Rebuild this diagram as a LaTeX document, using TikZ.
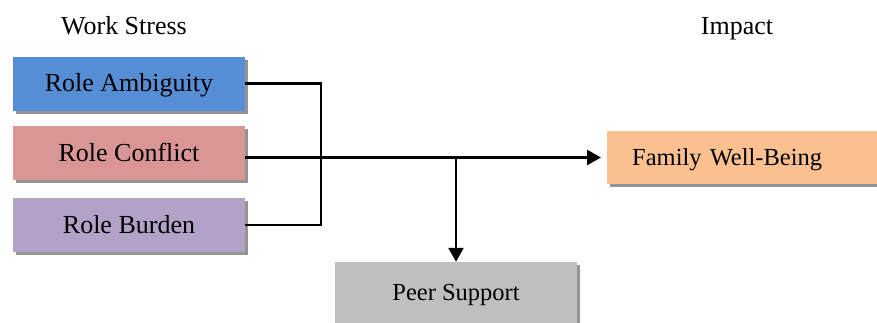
\documentclass[tikz,border=0pt]{standalone}
\usepackage{fontspec}
\setmainfont{Liberation Serif}
\usetikzlibrary{arrows.meta,shadows}
\definecolor{ambblue}{RGB}{85,142,213}
\definecolor{conpink}{RGB}{217,150,148}
\definecolor{burpurple}{RGB}{179,162,199}
\definecolor{famorange}{RGB}{250,192,144}
\definecolor{peergray}{RGB}{191,191,191}
\tikzstyle{rolebox}=[draw=none, minimum width=232pt, minimum height=54pt, inner sep=0pt,
    text height=20pt, text depth=4pt,
    drop shadow={shadow xshift=2.5pt, shadow yshift=-3pt, opacity=0.6, fill=black!70}]
\tikzstyle{heading}=[anchor=base]
\tikzstyle{link}=[line width=2.4pt]
\tikzstyle{arr}=[link, -{Triangle[length=14pt, width=15pt]}]

\begin{document}
\begin{tikzpicture}[x=1pt, y=-1pt, font=\fontsize{26}{31}\selectfont]
    \useasboundingbox (0,0) rectangle (877,322);
    % headings
    \node[heading] (stress) at (124,34) {Work Stress};
    \node[heading] (impact) at (737,34) {Impact};
    % work stress boxes
    \node[rolebox, fill=ambblue] (amb) at (129,83.5) {Role Ambiguity};
    \node[rolebox, fill=conpink] (conflict) at (129,153) {Role Conflict};
    \node[rolebox, fill=burpurple] (burden) at (129,225) {Role Burden};
    % impact boxes
    \node[rolebox, fill=famorange, anchor=west, minimum width=272pt, minimum height=53pt,
      font=\fontsize{24.5}{29}\selectfont, text width=222pt, align=left, inner xsep=25pt]
      (family) at (607,157.5) {Family Well-Being};
    \node[rolebox, fill=peergray, minimum width=242pt, minimum height=61pt,
      font=\fontsize{24.5}{29}\selectfont] (peer) at (456,292.5) {Peer Support};
    % connectors
    \coordinate (join) at (321,0);
    \draw[link] (amb.east) -- (amb.east -| join) -- (burden.east -| join) -- (burden.east);
    \draw[arr, shorten >=6pt] (conflict.east |- family.west) -- (family.west);
    \coordinate (split) at (family.west -| peer.north);
    \draw[arr] (split) -- (peer.north);
\end{tikzpicture}
\end{document}
